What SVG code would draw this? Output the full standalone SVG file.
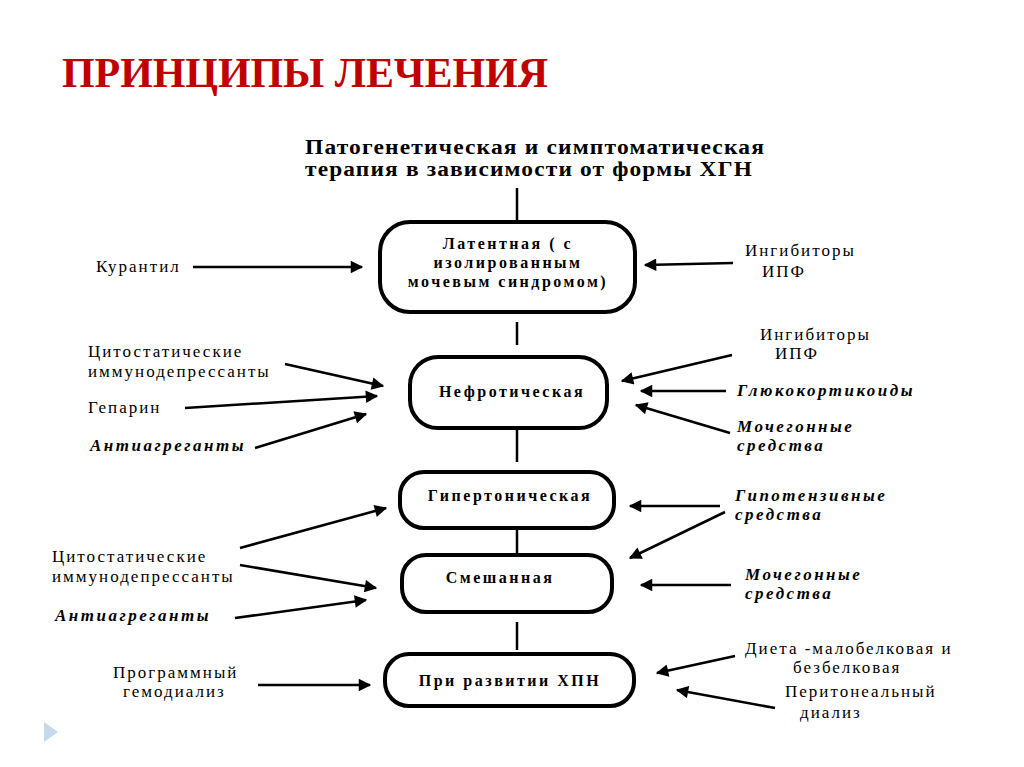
<svg xmlns="http://www.w3.org/2000/svg" width="1024" height="767" viewBox="0 0 1024 767">
<style>
text{font-family:"Liberation Serif","Times New Roman",serif;fill:#000}
.lab{font-size:17px;letter-spacing:2px}
.it{font-size:17px;font-weight:bold;font-style:italic;letter-spacing:2.5px}
.bx{font-size:16px;font-weight:bold;text-anchor:middle;letter-spacing:2.5px}
.node rect{fill:#fff;stroke:#000;stroke-width:4}
#connectors line{stroke:#000;stroke-width:2.5}
</style>
<defs><marker id="a" viewBox="0 0 10 10" refX="9" refY="5" markerWidth="7" markerHeight="5" orient="auto" markerUnits="strokeWidth"><path d="M0,0L10,5L0,10z" fill="#000"/></marker></defs>
<rect width="1024" height="767" fill="#fff"/>
<text x="62" y="87" textLength="486" style="font-size:42px;font-weight:bold;fill:#c00000">ПРИНЦИПЫ ЛЕЧЕНИЯ</text>
<text x="305" y="154" textLength="460" lengthAdjust="spacingAndGlyphs" style="font-size:20px;font-weight:bold;letter-spacing:1px">Патогенетическая и симптоматическая</text>
<text x="305" y="176" textLength="448" lengthAdjust="spacingAndGlyphs" style="font-size:20px;font-weight:bold;letter-spacing:1px">терапия в зависимости от формы ХГН</text>
<g id="connectors">
<line x1="517" y1="188" x2="517" y2="222"/><line x1="517" y1="322" x2="517" y2="345"/><line x1="517" y1="430" x2="517" y2="462"/><line x1="517" y1="530" x2="517" y2="553"/><line x1="517" y1="622" x2="517" y2="650"/>
<g marker-end="url(#a)">
<line x1="193" y1="267" x2="362" y2="267"/>
<line x1="285" y1="364" x2="383" y2="386"/>
<line x1="185" y1="408" x2="377" y2="396"/>
<line x1="255" y1="448" x2="366" y2="414"/>
<line x1="240" y1="548" x2="386" y2="508"/>
<line x1="240" y1="565" x2="376" y2="588"/>
<line x1="235" y1="618" x2="366" y2="600"/>
<line x1="258" y1="685" x2="370" y2="685"/>
<line x1="733" y1="263" x2="645" y2="265"/>
<line x1="732" y1="355" x2="622" y2="381"/>
<line x1="726" y1="391" x2="641" y2="391"/>
<line x1="730" y1="433" x2="636" y2="405"/>
<line x1="720" y1="506" x2="630" y2="506"/>
<line x1="725" y1="512" x2="630" y2="558"/>
<line x1="731" y1="585" x2="641" y2="585"/>
<line x1="735" y1="656" x2="657" y2="673"/>
<line x1="775" y1="708" x2="677" y2="690"/>
</g></g>
<g id="n1" class="node"><rect x="380" y="222" width="255" height="90" rx="30"/><text class="bx" x="508" y="249">Латентная ( с</text><text class="bx" x="508" y="268">изолированным</text><text class="bx" x="508" y="287">мочевым синдромом)</text></g>
<g id="n2" class="node"><rect x="410" y="357" width="197" height="71" rx="28"/><text class="bx" x="512" y="397">Нефротическая</text></g>
<g id="n3" class="node"><rect x="400" y="472" width="214" height="56" rx="24"/><text class="bx" x="510" y="501">Гипертоническая</text></g>
<g id="n4" class="node"><rect x="402" y="555" width="210" height="57" rx="24"/><text class="bx" x="500" y="583">Смешанная</text></g>
<g id="n5" class="node"><rect x="385" y="654" width="249" height="52" rx="24"/><text class="bx" x="510" y="686">При развитии ХПН</text></g>
<g id="labels">
<text class="lab" x="96" y="272">Курантил</text>
<text class="lab" x="88" y="357">Цитостатические</text><text class="lab" x="88" y="377">иммунодепрессанты</text>
<text class="lab" x="88" y="413">Гепарин</text>
<text class="it" x="90" y="451">Антиагреганты</text>
<text class="lab" x="52" y="562">Цитостатические</text><text class="lab" x="52" y="582">иммунодепрессанты</text>
<text class="it" x="55" y="621">Антиагреганты</text>
<text class="lab" x="113" y="678">Программный</text><text class="lab" x="123" y="697">гемодиализ</text>
<text class="lab" x="745" y="256">Ингибиторы</text><text class="lab" x="762" y="277">ИПФ</text>
<text class="lab" x="760" y="340">Ингибиторы</text><text class="lab" x="775" y="359">ИПФ</text>
<text class="it" x="737" y="396">Глюкокортикоиды</text>
<text class="it" x="737" y="432">Мочегонные</text><text class="it" x="737" y="451">средства</text>
<text class="it" x="735" y="501">Гипотензивные</text><text class="it" x="735" y="520">средства</text>
<text class="it" x="745" y="580">Мочегонные</text><text class="it" x="745" y="599">средства</text>
<text class="lab" x="745" y="654">Диета -малобелковая и</text><text class="lab" x="793" y="673">безбелковая</text>
<text class="lab" x="785" y="697">Перитонеальный</text><text class="lab" x="800" y="718">диализ</text>
</g>
<path d="M44,722L58,732L44,742z" fill="#c5d9ea"/>
</svg>
